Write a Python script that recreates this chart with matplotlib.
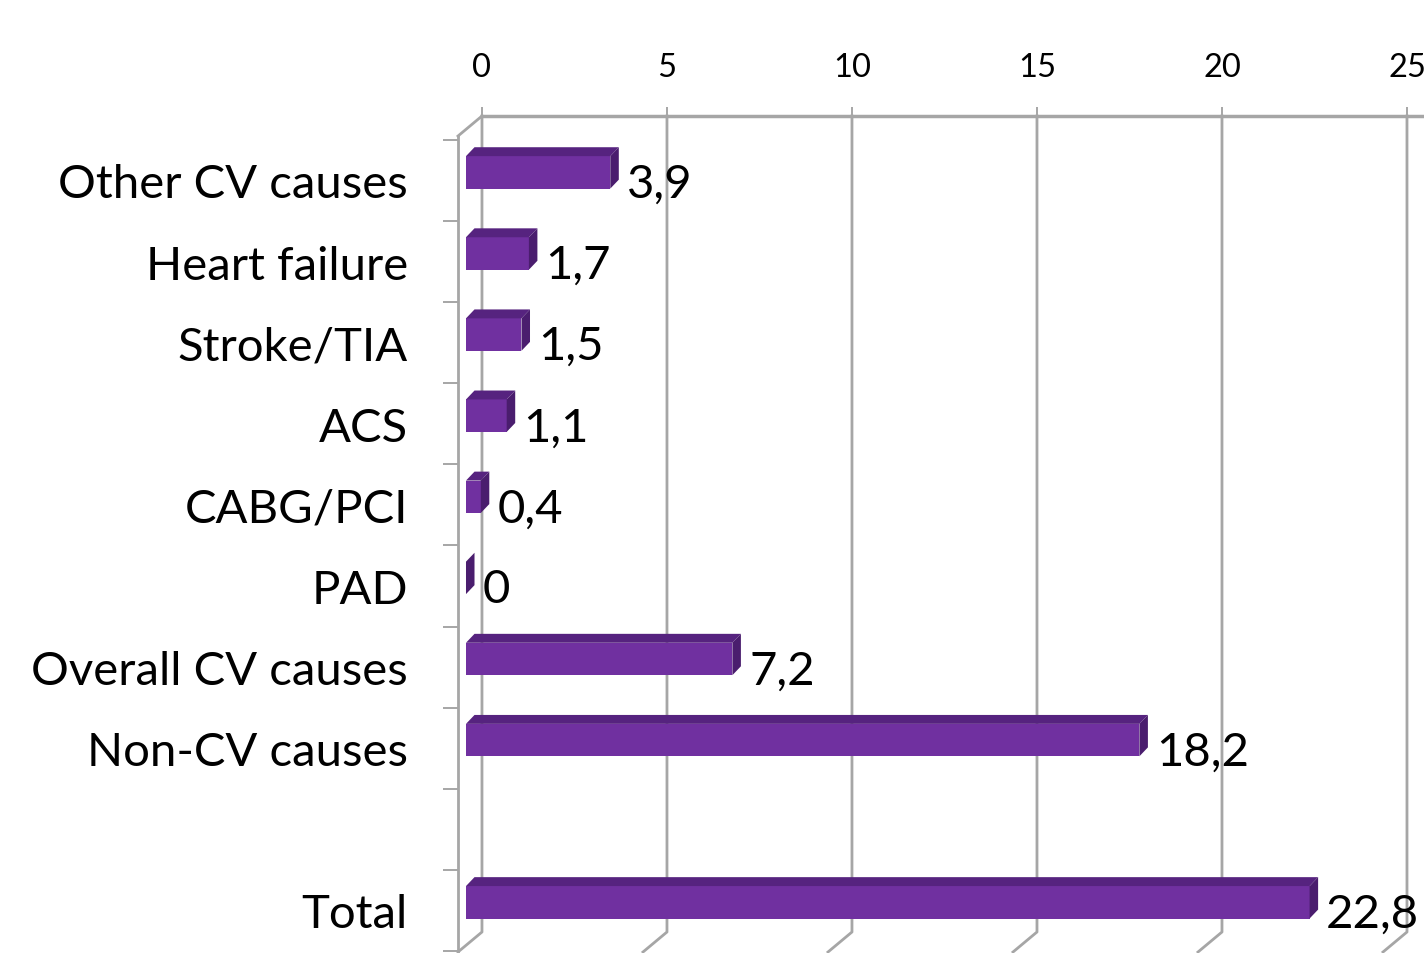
import matplotlib
matplotlib.use("Agg")
import matplotlib.pyplot as plt
from matplotlib import font_manager
from matplotlib.patches import Polygon

# narrow font is closest to the original Calibri look
installed = {f.name for f in font_manager.fontManager.ttflist}
if 'Liberation Sans Narrow' in installed:
    FONT, BIG, SMALL = 'Liberation Sans Narrow', 39.5, 24
else:
    FONT, BIG, SMALL = 'Lato', 34, 23.5
plt.rcParams['font.family'] = [FONT, 'DejaVu Sans']

# data
categories = ["Other CV causes", "Heart failure", "Stroke/TIA", "ACS", "CABG/PCI",
              "PAD", "Overall CV causes", "Non-CV causes", "", "Total"]
values = [3.9, 1.7, 1.5, 1.1, 0.4, 0.0, 7.2, 18.2, None, 22.8]
value_labels = ["3,9", "1,7", "1,5", "1,1", "0,4", "0", "7,2", "18,2", "", "22,8"]
x_ticks = [0, 5, 10, 15, 20, 25]

FRONT = '#7030A0'
TOP = '#56237F'
SIDE = '#4A1D6E'
GRID = '#A6A6A6'

# fake 3d geometry (in data units)
WALL_DX, WALL_DY = 0.649, 0.247      # depth of the plot box
BACK_X0 = 0.432                      # back wall zero, relative to bar start
FRONT_X0 = -0.216                    # front-left edge
BAR_DX, BAR_DY = 0.23, 0.11          # depth of each bar
BAR_H = 0.40
BAR_SHIFT = -0.1

W, H = 1424, 954
fig = plt.figure(figsize=(W / 100, H / 100), dpi=100)
ax = fig.add_axes([458 / W, 0, 1 - 458 / W, (954 - 117) / H])
ax.set_xlim(FRONT_X0, (W - 466) / 37.0)
y_top = -0.795
y_bot = (954 - 181.5) / 81.1
back_bottom = (933 - 181.5) / 81.1
ax.set_ylim(y_bot, y_top)

for s in ['right', 'bottom', 'top']:
    ax.spines[s].set_visible(False)

# back wall: grid lines + floor diagonals
for t in x_ticks:
    xb = t + BACK_X0
    ax.plot([xb, xb, xb - WALL_DX], [y_top, back_bottom, back_bottom + WALL_DY],
            color=GRID, lw=2, clip_on=False, zorder=1)
ax.plot([BACK_X0, ax.get_xlim()[1] + 1], [y_top, y_top], color=GRID, lw=2.5,
        clip_on=False, zorder=1)
# left wall edge
ax.plot([FRONT_X0, BACK_X0], [y_top + WALL_DY, y_top], color=GRID, lw=2,
        clip_on=False, zorder=1)
ax.spines['left'].set_color(GRID)
ax.spines['left'].set_linewidth(2)
ax.spines['left'].set_bounds(y_top + WALL_DY, y_bot)

# top axis
ax.xaxis.tick_top()
ax.set_xticks([t + BACK_X0 for t in x_ticks])
ax.set_xticklabels([str(t) for t in x_ticks], fontsize=SMALL)
ax.tick_params(axis='x', length=6.5, width=1.4, color=GRID, pad=18)

# category axis
ax.set_yticks(range(len(categories)))
ax.set_yticklabels(categories, fontsize=BIG)
ax.set_yticks([k - 0.5 for k in range(len(categories) + 1)], minor=True)
ax.tick_params(axis='y', which='major', length=0, pad=36)
ax.tick_params(axis='y', which='minor', length=10.8, width=1.4, color=GRID)

# bars
for i, (v, lab) in enumerate(zip(values, value_labels)):
    if v is None:
        continue
    yc = i + BAR_SHIFT
    y0, y1 = yc - BAR_H / 2, yc + BAR_H / 2
    ax.barh(yc, v, height=BAR_H, left=0, color=FRONT, zorder=3)
    top = Polygon([(0, y0), (v, y0), (v + BAR_DX, y0 - BAR_DY), (BAR_DX, y0 - BAR_DY)],
                  closed=True, facecolor=TOP, edgecolor='none', zorder=3)
    side = Polygon([(v, y0), (v, y1), (v + BAR_DX, y1 - BAR_DY), (v + BAR_DX, y0 - BAR_DY)],
                   closed=True, facecolor=SIDE, edgecolor='none', zorder=3)
    ax.add_patch(top)
    ax.add_patch(side)
    ax.text(v + BAR_DX + 0.22, i + 0.203, lab, fontsize=BIG, ha='left',
            va='baseline', clip_on=False, zorder=4)

fig.savefig("out.png", dpi=100)
